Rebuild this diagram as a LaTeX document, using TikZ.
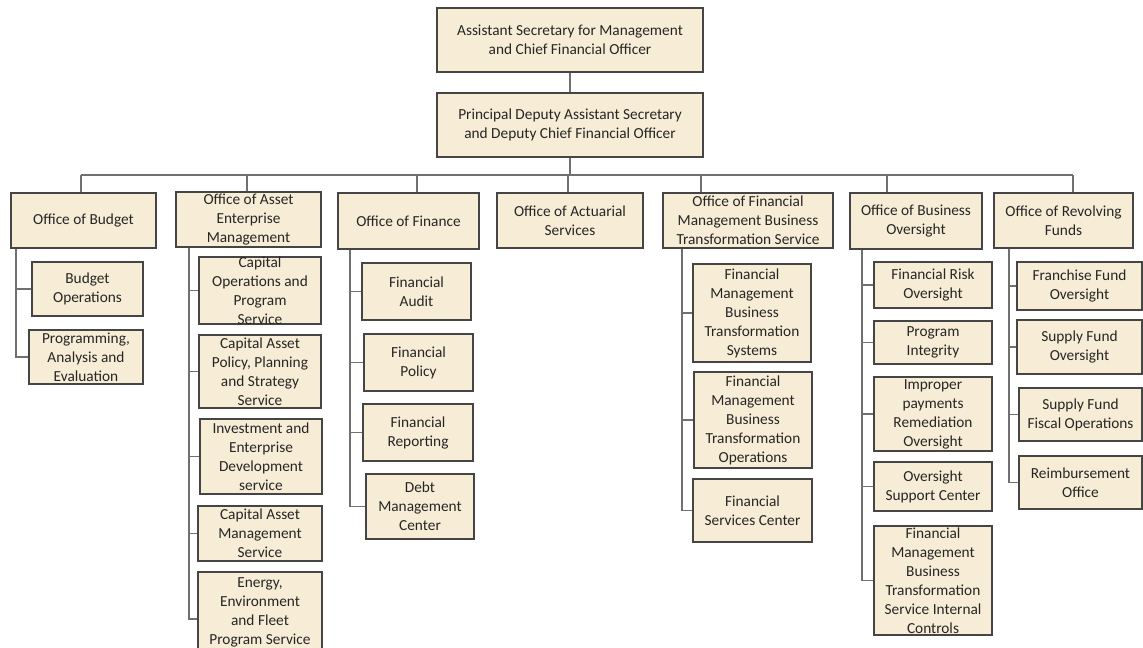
\documentclass[tikz,border=0pt]{standalone}
\usepackage{fontspec}
\setmainfont{Carlito}
\definecolor{boxfill}{HTML}{F7ECD5}
\definecolor{boxline}{HTML}{454545}
\definecolor{conline}{HTML}{707070}
\definecolor{txtcol}{HTML}{262626}
\tikzset{
  box/.style={draw=boxline, line width=0.9pt, fill=boxfill, inner sep=0pt},
  lbl/.style={align=center, inner sep=0pt, text=txtcol, font=\fontsize{11.5}{14.25}\selectfont},
  con/.style={draw=conline, line width=1.25pt}
}
\newcommand\bx[6]{%
  \pgfmathsetmacro\bw{(#4-#2)*0.75}%
  \pgfmathsetmacro\bh{(#5-#3)*0.75}%
  \node[box, minimum width=\bw pt, minimum height=\bh pt, label={[lbl]center:{#6}}] (#1) at ({(#2+#4)/2},{(#3+#5)/2}) {};%
}
\begin{document}
\begin{tikzpicture}[x=0.75pt, y=-0.75pt]
\useasboundingbox (0,0) rectangle (1143,648);
% top
\bx{asm}{437}{8}{703}{72}{Assistant Secretary for Management\\and Chief Financial Officer}
\bx{pdas}{437}{93}{703}{157}{Principal Deputy Assistant Secretary\\and Deputy Chief Financial Officer}
% level 1
\bx{ob}{11}{193}{156}{248}{Office of Budget}
\bx{oa}{176}{192}{321}{247}{Office of Asset\\Enterprise\\Management}
\bx{of}{338}{193}{479}{249}{Office of Finance}
\bx{oact}{497}{193}{643}{248}{Office of Actuarial\\Services}
\bx{ofm}{663}{193}{833}{248}{Office of Financial\\Management Business\\Transformation Service}
\bx{obo}{850}{193}{982}{249}{Office of Business\\Oversight}
\bx{orf}{994}{193}{1133}{248}{Office of Revolving\\Funds}
% budget children
\bx{b1}{32}{262}{143}{316}{Budget\\Operations}
\bx{b2}{29}{330}{143}{384}{Programming,\\Analysis and\\Evaluation}
% asset children
\bx{a1}{199}{257}{321}{324}{Capital\\Operations and\\Program\\Service}
\bx{a2}{199}{335}{321}{408}{Capital Asset\\Policy, Planning\\and Strategy\\Service}
\bx{a3}{200}{419}{322}{494}{Investment and\\Enterprise\\Development\\service}
\bx{a4}{198}{506}{322}{561}{Capital Asset\\Management\\Service}
\bx{a5}{198}{572}{322}{652}{Energy,\\Environment\\and Fleet\\Program Service}
% finance children
\bx{f1}{362}{263}{471}{320}{Financial\\Audit}
\bx{f2}{364}{334}{473}{391}{Financial\\Policy}
\bx{f3}{363}{404}{473}{461}{Financial\\Reporting}
\bx{f4}{366}{474}{474}{539}{Debt\\Management\\Center}
% FMBTS children
\bx{m1}{693}{264}{811}{362}{Financial\\Management\\Business\\Transformation\\Systems}
\bx{m2}{694}{372}{812}{468}{Financial\\Management\\Business\\Transformation\\Operations}
\bx{m3}{693}{479}{812}{542}{Financial\\Services Center}
% business oversight children
\bx{o1}{874}{262}{992}{308}{Financial Risk\\Oversight}
\bx{o2}{874}{321}{992}{364}{Program\\Integrity}
\bx{o3}{874}{377}{992}{451}{Improper\\payments\\Remediation\\Oversight}
\bx{o4}{874}{462}{992}{511}{Oversight\\Support Center}
\bx{o5}{874}{526}{992}{635}{Financial\\Management\\Business\\Transformation\\Service Internal\\Controls}
% revolving funds children
\bx{r1}{1017}{262}{1142}{310}{Franchise Fund\\Oversight}
\bx{r2}{1017}{320}{1142}{374}{Supply Fund\\Oversight}
\bx{r3}{1019}{388}{1142}{441}{Supply Fund\\Fiscal Operations}
\bx{r4}{1019}{456}{1142}{509}{Reimbursement\\Office}
% bus taps
\coordinate (tB) at (81,175);
\coordinate (tA) at (247,175);
\coordinate (tF) at (417,175);
\coordinate (tAc) at (568,175);
\coordinate (tM) at (701,175);
\coordinate (tO) at (887,175);
\coordinate (tR) at (1073,175);
% vertical spines
\coordinate (vB) at (16,0);
\coordinate (vA) at (189,0);
\coordinate (vF) at (350,0);
\coordinate (vM) at (682,0);
\coordinate (vO) at (862,0);
\coordinate (vR) at (1009,0);
\draw[con] (asm) -- (pdas);
\draw[con] (pdas.south) -- (pdas.south |- tAc);
\draw[con] (tB) -- (tR);
\foreach \t/\n in {tB/ob, tA/oa, tF/of, tAc/oact, tM/ofm, tO/obo, tR/orf}
  \draw[con] (\t) -- (\t |- \n.north);
% budget
\draw[con] (vB |- ob.south) -- (vB |- b2.west) -- (b2.west);
\draw[con] (vB |- b1.west) -- (b1.west);
% asset
\draw[con] (vA |- oa.south) -- ([yshift=-5.25pt]vA |- a5.west) -- ([yshift=-5.25pt]a5.west);
\foreach \c in {a1,a2,a3,a4}
  \draw[con] (vA |- \c.west) -- (\c.west);
% finance
\draw[con] (vF |- of.south) -- (vF |- f4.west) -- (f4.west);
\foreach \c in {f1,f2,f3}
  \draw[con] (vF |- \c.west) -- (\c.west);
% FMBTS
\draw[con] (vM |- ofm.south) -- (vM |- m3.west) -- (m3.west);
\foreach \c in {m1,m2}
  \draw[con] (vM |- \c.west) -- (\c.west);
% business oversight
\draw[con] (vO |- obo.south) -- (vO |- o5.west) -- (o5.west);
\foreach \c in {o1,o2,o3,o4}
  \draw[con] (vO |- \c.west) -- (\c.west);
% revolving funds
\draw[con] (vR |- orf.south) -- (vR |- r4.west) -- (r4.west);
\foreach \c in {r1,r2,r3}
  \draw[con] (vR |- \c.west) -- (\c.west);
\end{tikzpicture}
\end{document}
